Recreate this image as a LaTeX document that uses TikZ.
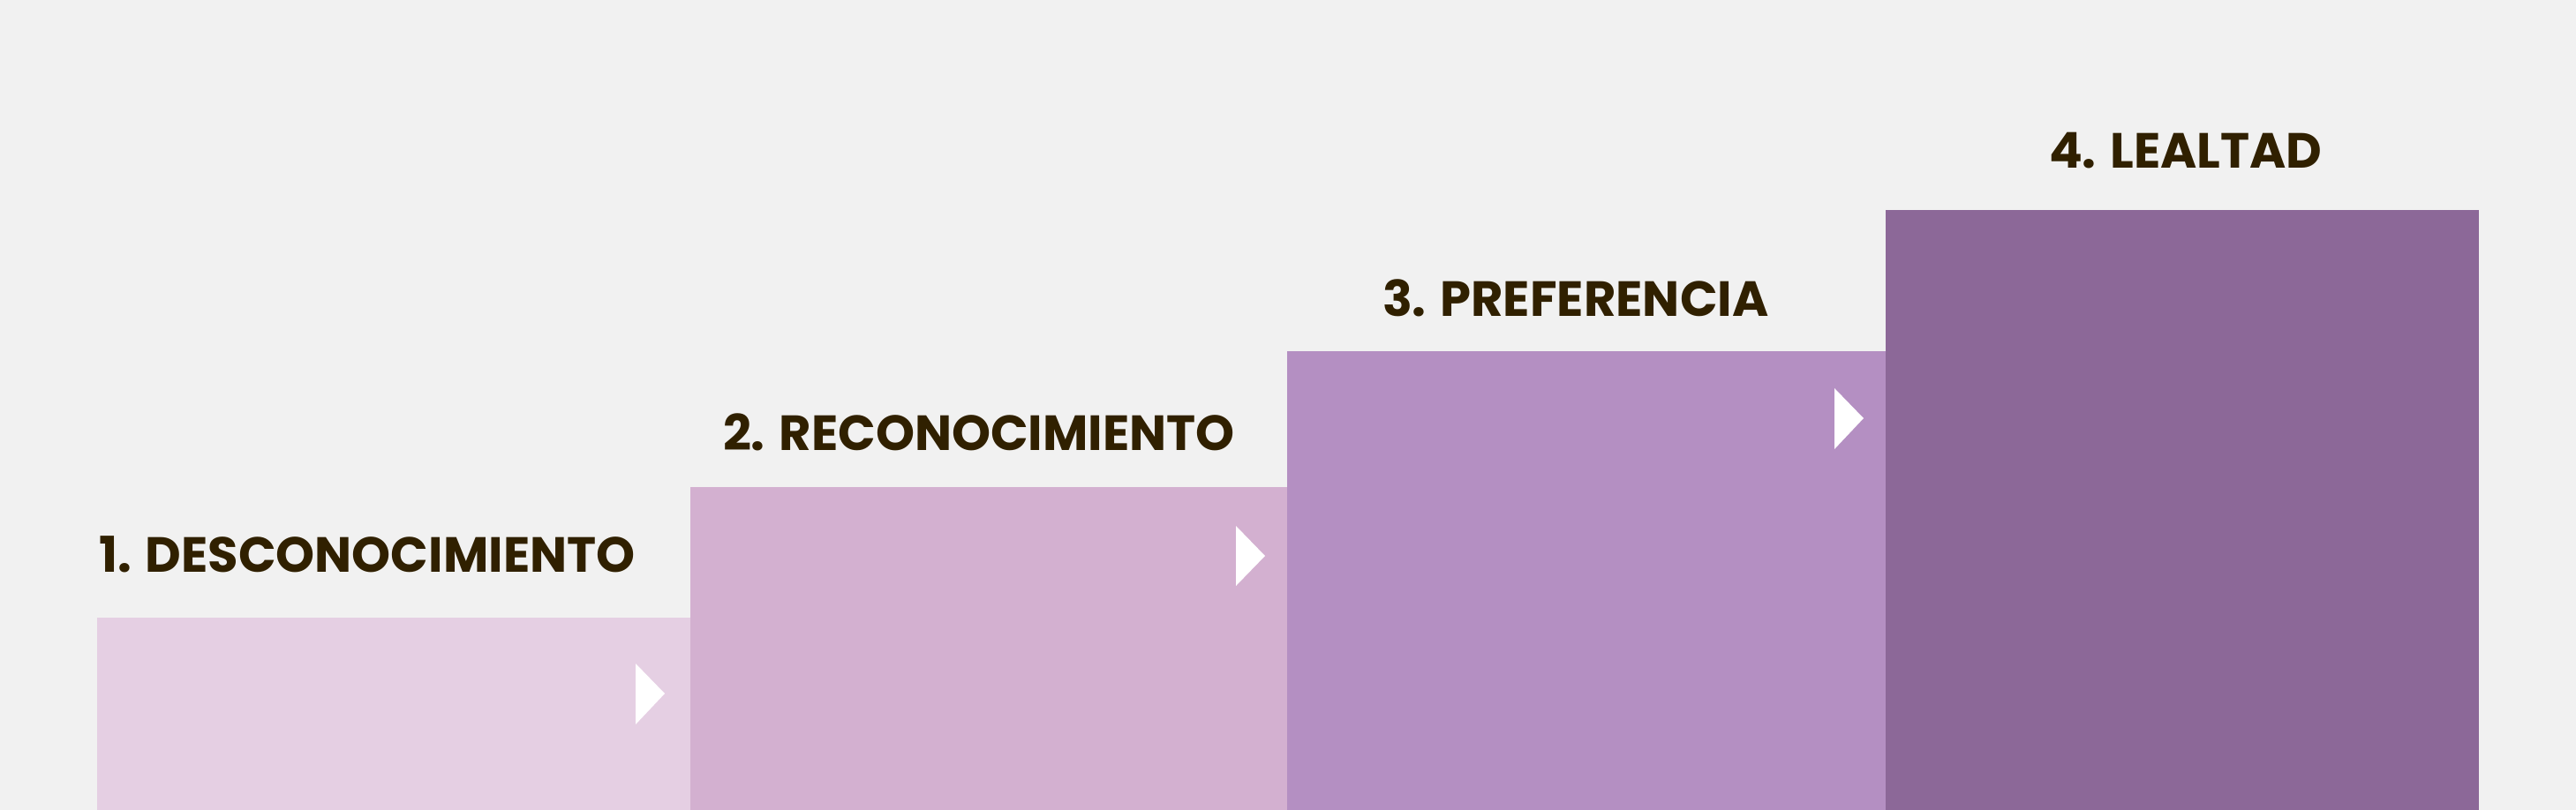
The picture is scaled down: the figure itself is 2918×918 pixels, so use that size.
\documentclass[tikz,border=0pt]{standalone}
\usepackage{fontspec}
\newfontfamily\lblfont{Poppins}
\definecolor{bgc}{HTML}{F1F1F1}
\definecolor{stepA}{HTML}{E5CFE3}
\definecolor{stepB}{HTML}{D3B0D0}
\definecolor{stepC}{HTML}{B48FC2}
\definecolor{stepD}{HTML}{8C6898}
\definecolor{txtc}{HTML}{302000}
\begin{document}
\begin{tikzpicture}[x=1pt,y=-1pt,
  lbl/.style={anchor=base west,inner sep=0pt,outer sep=0pt,text=txtc,font=\lblfont\bfseries\fontsize{56}{60}\selectfont},
  tri/.style={fill=white,draw=none}]
\fill[bgc] (0,0) rectangle (2918,918);
\useasboundingbox (0,0) rectangle (2918,918);
\fill[stepA] (110,700) rectangle (782,918);
\fill[stepB] (782,552) rectangle (1458,918);
\fill[stepC] (1458,398) rectangle (2136,918);
\fill[stepD] (2136,238) rectangle (2808,918);
\fill[tri] (720,752) -- (753,786) -- (720,821) -- cycle;
\fill[tri] (1400,596) -- (1433,630) -- (1400,664) -- cycle;
\fill[tri] (2078,440) -- (2111,474) -- (2078,509) -- cycle;
\node[lbl] (t1) at (112,648) {1. DESCONOCIMIENTO};
\node[lbl] (t2) at (819,510) {2. RECONOCIMIENTO};
\node[lbl] (t3) at (1566,358) {3. PREFERENCIA};
\node[lbl] (t4) at (2321,190) {4. LEALTAD};
\end{tikzpicture}
\end{document}
